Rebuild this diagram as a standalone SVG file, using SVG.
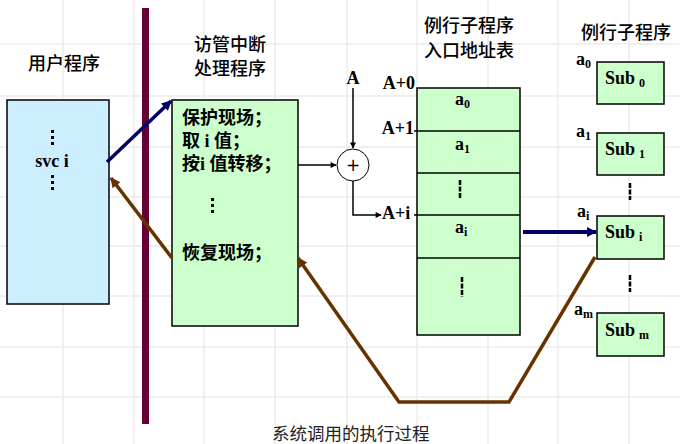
<svg xmlns="http://www.w3.org/2000/svg" width="680" height="444" viewBox="0 0 680 444">
<style>
.grid line{stroke:#ebebeb;stroke-width:1.5}
.box{stroke:#000;stroke-width:1.5}
.green{fill:#ccffcc}
.blue{fill:#cceeff}
.cjk{font-family:"Noto Sans CJK SC",sans-serif;font-size:18px;fill:#000;font-weight:500}
.body{font-family:"Liberation Serif","Times New Roman","Noto Sans CJK SC",serif;font-size:18px;font-weight:bold;fill:#000}
.lbl{font-family:"Liberation Serif","Times New Roman",serif;font-size:18px;font-weight:bold;fill:#000}
.sub{font-size:12px}
.dot{fill:#000}
.dash{stroke:#000;stroke-width:2.5;stroke-dasharray:5 1.5}
.thin{stroke:#000;stroke-width:1.5;fill:none}
</style>
<defs>
<marker id="ahNavy" viewBox="0 0 10 10" refX="9" refY="5" markerWidth="13" markerHeight="10" markerUnits="userSpaceOnUse" orient="auto"><path d="M0,0 L10,5 L0,10 z" fill="#000066"/></marker>
<marker id="ahBrown" viewBox="0 0 10 10" refX="9" refY="5" markerWidth="13" markerHeight="10" markerUnits="userSpaceOnUse" orient="auto"><path d="M0,0 L10,5 L0,10 z" fill="#663300"/></marker>
<marker id="ahBlack" viewBox="0 0 10 10" refX="9" refY="5" markerWidth="8" markerHeight="6" markerUnits="userSpaceOnUse" orient="auto"><path d="M0,0 L10,5 L0,10 z" fill="#000"/></marker>
</defs>
<rect width="680" height="444" fill="#fff"/>
<g class="grid">
<line x1="63" y1="0" x2="63" y2="444"/><line x1="134" y1="0" x2="134" y2="444"/><line x1="204" y1="0" x2="204" y2="444"/><line x1="275" y1="0" x2="275" y2="444"/><line x1="347" y1="0" x2="347" y2="444"/><line x1="417" y1="0" x2="417" y2="444"/><line x1="488" y1="0" x2="488" y2="444"/><line x1="558" y1="0" x2="558" y2="444"/><line x1="629" y1="0" x2="629" y2="444"/>
<line x1="0" y1="44" x2="680" y2="44"/><line x1="0" y1="96" x2="680" y2="96"/><line x1="0" y1="147" x2="680" y2="147"/><line x1="0" y1="197" x2="680" y2="197"/><line x1="0" y1="246" x2="680" y2="246"/><line x1="0" y1="296" x2="680" y2="296"/><line x1="0" y1="347" x2="680" y2="347"/><line x1="0" y1="397" x2="680" y2="397"/>
</g>
<rect x="142" y="8" width="7" height="416" fill="#660033"/>
<g id="titles">
<text class="cjk" x="64" y="70" text-anchor="middle">用户程序</text>
<text class="cjk" x="230" y="51" text-anchor="middle">访管中断</text>
<text class="cjk" x="230" y="75" text-anchor="middle">处理程序</text>
<text class="cjk" x="469" y="32" text-anchor="middle">例行子程序</text>
<text class="cjk" x="469" y="57" text-anchor="middle">入口地址表</text>
<text class="cjk" x="626" y="39" text-anchor="middle">例行子程序</text>
</g>
<g id="user">
<rect class="box blue" x="7" y="100" width="102" height="204"/>
<rect class="dot" x="51" y="130" width="3" height="3"/><rect class="dot" x="51" y="136" width="3" height="3"/><rect class="dot" x="51" y="142" width="3" height="3"/>
<text class="body" x="52" y="167" text-anchor="middle">svc i</text>
<rect class="dot" x="51" y="175" width="3" height="3"/><rect class="dot" x="51" y="181" width="3" height="3"/><rect class="dot" x="51" y="187" width="3" height="3"/>
</g>
<g id="handler">
<rect class="box green" x="172" y="100" width="126" height="226"/>
<text class="body" x="182" y="124">保护现场；</text>
<text class="body" x="182" y="147">取 i 值；</text>
<text class="body" x="182" y="170">按i 值转移；</text>
<rect class="dot" x="211" y="198" width="3" height="3"/><rect class="dot" x="211" y="204" width="3" height="3"/><rect class="dot" x="211" y="210" width="3" height="3"/>
<text class="body" x="182" y="259">恢复现场；</text>
</g>
<g id="adder">
<text class="lbl" x="353" y="84" text-anchor="middle">A</text>
<circle cx="353" cy="165" r="16" fill="#fff" stroke="#000" stroke-width="1"/>
<text x="353" y="171" text-anchor="middle" font-family="DejaVu Sans,sans-serif" font-size="17" fill="#000">+</text>
</g>
<g id="table">
<rect class="box green" x="417" y="88" width="103" height="247"/>
<line class="thin" x1="414" y1="131" x2="520" y2="131"/>
<line class="thin" x1="417" y1="173" x2="520" y2="173"/>
<line class="thin" x1="414" y1="215" x2="520" y2="215"/>
<line class="thin" x1="417" y1="258" x2="520" y2="258"/>
<text class="lbl" x="415" y="89" text-anchor="end">A+0</text>
<text class="lbl" x="414" y="134" text-anchor="end">A+1</text>
<text class="lbl" x="382" y="219">A+i</text>
<text class="lbl" x="455" y="105">a<tspan class="sub" dy="3">0</tspan></text>
<text class="lbl" x="455" y="150">a<tspan class="sub" dy="3">1</tspan></text>
<text class="lbl" x="455" y="233">a<tspan class="sub" dy="3">i</tspan></text>
<line class="dash" x1="460" y1="180" x2="460" y2="198"/>
<line class="dash" x1="462" y1="277" x2="462" y2="297"/>
</g>
<g id="subs">
<rect class="box green" x="597" y="62" width="67" height="42"/>
<rect class="box green" x="597" y="133" width="67" height="42"/>
<rect class="box green" x="597" y="216" width="67" height="43"/>
<rect class="box green" x="597" y="313" width="67" height="43"/>
<text class="lbl" x="576" y="65">a<tspan class="sub" dy="3">0</tspan></text>
<text class="lbl" x="576" y="137">a<tspan class="sub" dy="3">1</tspan></text>
<text class="lbl" x="577" y="217">a<tspan class="sub" dy="3">i</tspan></text>
<text class="lbl" x="574" y="315">a<tspan class="sub" dy="3">m</tspan></text>
<text class="body" x="605" y="84">Sub<tspan class="sub" dx="4" dy="3">0</tspan></text>
<text class="body" x="605" y="155">Sub<tspan class="sub" dx="4" dy="3">1</tspan></text>
<text class="body" x="605" y="238">Sub<tspan class="sub" dx="4" dy="3">i</tspan></text>
<text class="body" x="605" y="336">Sub<tspan class="sub" dx="4" dy="3">m</tspan></text>
<line class="dash" x1="630" y1="183" x2="630" y2="200"/>
<line class="dash" x1="630" y1="275" x2="630" y2="292"/>
</g>
<g id="connectors" fill="none">
<line x1="107" y1="162" x2="171" y2="101" stroke="#000066" stroke-width="3.5" marker-end="url(#ahNavy)"/>
<line x1="172" y1="258" x2="111" y2="178" stroke="#663300" stroke-width="3.5" marker-end="url(#ahBrown)"/>
<polyline points="595,257 509,402 399,402 298,258" stroke="#663300" stroke-width="3.5" stroke-linejoin="miter" marker-end="url(#ahBrown)"/>
<line x1="523" y1="232" x2="596" y2="232" stroke="#000066" stroke-width="4" marker-end="url(#ahNavy)"/>
<line x1="298" y1="165" x2="336" y2="165" stroke="#000" stroke-width="1.5" marker-end="url(#ahBlack)"/>
<line x1="353" y1="88" x2="353" y2="148" stroke="#000" stroke-width="1.5" marker-end="url(#ahBlack)"/>
<polyline points="353,181 353,215 381,215" stroke="#000" stroke-width="1.5" marker-end="url(#ahBlack)"/>
</g>
<text x="272" y="440" font-family="Noto Sans CJK SC,sans-serif" font-size="17.5" fill="#222">系统调用的执行过程</text>
</svg>
